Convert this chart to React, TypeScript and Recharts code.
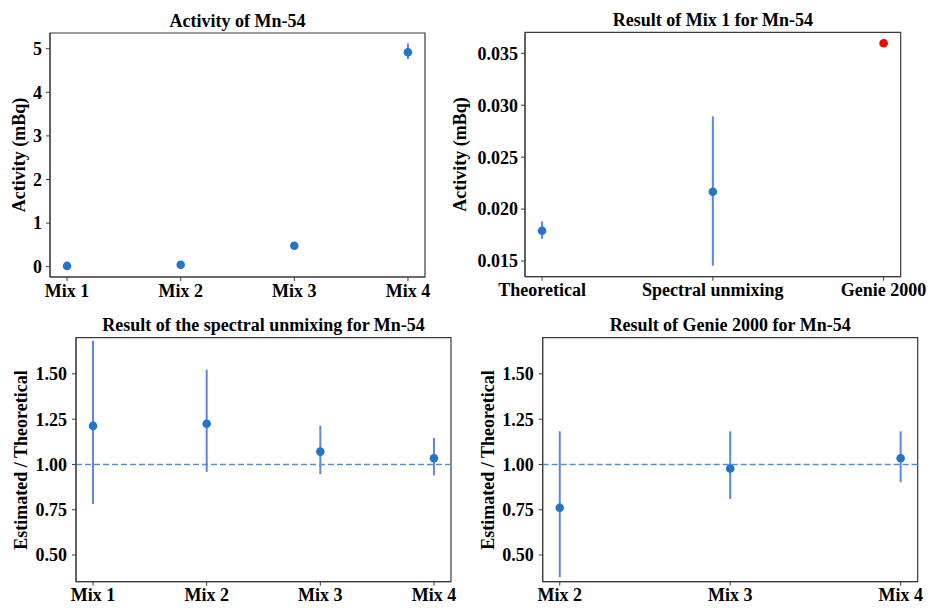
import React from 'react';
import { ScatterChart, Scatter, XAxis, YAxis, ErrorBar, ReferenceLine, ReferenceArea } from 'recharts';

// ---------- data ----------
const activityLabels = ['Mix 1', 'Mix 2', 'Mix 3', 'Mix 4'];
const activityValues = [0.018, 0.046, 0.48, 4.92];
const activityErrLow = [0.001, 0.003, 0.02, 0.16];
const activityErrHigh = [0.001, 0.003, 0.02, 0.2];
const activityTicks = [0, 1, 2, 3, 4, 5];

const mix1Labels = ['Theoretical', 'Spectral unmixing', 'Genie 2000'];
const mix1Values = [0.01792, 0.02167];
const mix1ErrLow = [0.00077, 0.00712];
const mix1ErrHigh = [0.0009, 0.00726];
const mix1GenieValue = 0.03596;
const mix1Ticks = [0.015, 0.02, 0.025, 0.03, 0.035];

const unmixLabels = ['Mix 1', 'Mix 2', 'Mix 3', 'Mix 4'];
const unmixValues = [1.213, 1.225, 1.071, 1.034];
const unmixErrLow = [0.431, 0.266, 0.124, 0.094];
const unmixErrHigh = [0.471, 0.299, 0.143, 0.112];

const genieLabels = ['Mix 2', 'Mix 3', 'Mix 4'];
const genieValues = [0.761, 0.978, 1.034];
const genieErrLow = [0.384, 0.169, 0.132];
const genieErrHigh = [0.422, 0.205, 0.149];

const ratioTicks = [0.5, 0.75, 1.0, 1.25, 1.5];

// ---------- style ----------
const FONT = '"Liberation Serif", "Times New Roman", serif';
const TEXT = '#000000';
const FRAME = '#3a3a3a';
const MARKER = '#2475c7';
const ERRCOL = '#5b85e8';
const DASH = '#4d94d6';

const tickStyle = { fill: TEXT, fontSize: 18, fontWeight: 'bold', fontFamily: FONT };

const Dot = (color: string) => (props: any) => (
  <circle cx={props.cx} cy={props.cy} r={4.3} fill={color} stroke="none" />
);

const build = (vals: number[], lo: number[], hi: number[]) =>
  vals.map((v, i) => ({ x: i, y: v, err: [lo[i], hi[i]] }));

type PanelProps = {
  left: number; top: number; width: number; height: number;
  yAxisWidth: number; marginTop: number; marginRight: number; xAxisHeight: number;
  labels: string[]; xDomain: [number, number];
  yDomain: [number, number]; yTicks: number[]; yFmt: (v: number) => string;
  series: { data: any[]; color: string; errors: boolean }[];
  refY?: number; yTickMargin: number;
};

const Panel = (p: PanelProps) => (
  <div style={{ position: 'absolute', left: p.left, top: p.top }}>
    <ScatterChart
      width={p.width}
      height={p.height}
      margin={{ top: p.marginTop, right: p.marginRight, bottom: 0, left: 0 }}
    >
      <XAxis
        type="number"
        dataKey="x"
        domain={p.xDomain}
        allowDataOverflow
        ticks={p.labels.map((_, i) => i)}
        tickFormatter={(v: number) => p.labels[v] ?? ''}
        interval={0}
        height={p.xAxisHeight}
        tickSize={4}
        tickMargin={3}
        stroke={FRAME}
        tickLine={{ stroke: FRAME }}
        axisLine={{ stroke: FRAME }}
        tick={tickStyle}
      />
      <YAxis
        type="number"
        dataKey="y"
        domain={p.yDomain}
        allowDataOverflow
        ticks={p.yTicks}
        tickFormatter={p.yFmt}
        interval={0}
        width={p.yAxisWidth}
        tickSize={4}
        tickMargin={p.yTickMargin}
        stroke={FRAME}
        tickLine={{ stroke: FRAME }}
        axisLine={{ stroke: FRAME }}
        tick={tickStyle}
      />
      <ReferenceArea
        x1={p.xDomain[0]}
        x2={p.xDomain[1]}
        y1={p.yDomain[0]}
        y2={p.yDomain[1]}
        fill="none"
        fillOpacity={0}
        stroke={FRAME}
        strokeWidth={1.2}
        ifOverflow="visible"
      />
      {p.refY !== undefined && (
        <ReferenceLine y={p.refY} stroke={DASH} strokeWidth={1.6} strokeDasharray="6 3" ifOverflow="visible" />
      )}
      {p.series.map((s, i) => (
        <Scatter key={i} data={s.data} isAnimationActive={false} shape={Dot(s.color)}>
          {s.errors && (
            <ErrorBar dataKey="err" direction="y" width={0} stroke={ERRCOL} strokeWidth={2} isAnimationActive={false} />
          )}
        </Scatter>
      ))}
    </ScatterChart>
  </div>
);

const TitleText = ({ x, y, children }: { x: number; y: number; children: React.ReactNode }) => (
  <text x={x} y={y} textAnchor="middle" fontFamily={FONT} fontWeight="bold" fontSize={18} fill={TEXT}>
    {children}
  </text>
);

const YLabel = ({ x, y, children }: { x: number; y: number; children: React.ReactNode }) => (
  <text
    x={x}
    y={y}
    transform={`rotate(-90, ${x}, ${y})`}
    textAnchor="middle"
    fontFamily={FONT}
    fontWeight="bold"
    fontSize={18}
    fill={TEXT}
  >
    {children}
  </text>
);

export default function App() {
  return (
    <div style={{ position: 'absolute', left: 0, top: 0, width: 929, height: 608, background: '#fff', overflow: 'hidden' }}>
      <Panel
        left={0} top={0} width={465} height={300}
        yAxisWidth={50} marginTop={33} marginRight={40} xAxisHeight={23}
        labels={activityLabels} xDomain={[-0.15, 3.15]}
        yDomain={[-0.236, 5.36]} yTicks={activityTicks} yFmt={(v) => String(v)}
        yTickMargin={4}
        series={[{ data: build(activityValues, activityErrLow, activityErrHigh), color: MARKER, errors: true }]}
      />
      <Panel
        left={465} top={0} width={464} height={300}
        yAxisWidth={60} marginTop={32.3} marginRight={28.3} xAxisHeight={23.3}
        labels={mix1Labels} xDomain={[-0.1, 2.1]}
        yDomain={[0.01349, 0.03702]} yTicks={mix1Ticks} yFmt={(v) => v.toFixed(3)}
        yTickMargin={3}
        series={[
          { data: build(mix1Values, mix1ErrLow, mix1ErrHigh), color: MARKER, errors: true },
          { data: [{ x: 2, y: mix1GenieValue, err: [0, 0] }], color: '#ff0000', errors: false },
        ]}
      />
      <Panel
        left={0} top={300} width={465} height={308}
        yAxisWidth={76} marginTop={37.7} marginRight={14} xAxisHeight={26.3}
        labels={unmixLabels} xDomain={[-0.15, 3.15]}
        yDomain={[0.3525, 1.7]} yTicks={ratioTicks} yFmt={(v) => v.toFixed(2)}
        yTickMargin={5}
        refY={1}
        series={[{ data: build(unmixValues, unmixErrLow, unmixErrHigh), color: MARKER, errors: true }]}
      />
      <Panel
        left={465} top={300} width={464} height={308}
        yAxisWidth={77.7} marginTop={37.7} marginRight={11.3} xAxisHeight={26.3}
        labels={genieLabels} xDomain={[-0.1, 2.1]}
        yDomain={[0.3525, 1.7]} yTicks={ratioTicks} yFmt={(v) => v.toFixed(2)}
        yTickMargin={5}
        refY={1}
        series={[{ data: build(genieValues, genieErrLow, genieErrHigh), color: MARKER, errors: true }]}
      />
      <svg
        width={929}
        height={608}
        style={{ position: 'absolute', left: 0, top: 0, pointerEvents: 'none' }}
      >
        <TitleText x={237.5} y={27.3}>Activity of Mn-54</TitleText>
        <TitleText x={712.9} y={26}>Result of Mix 1 for Mn-54</TitleText>
        <TitleText x={263.5} y={331}>Result of the spectral unmixing for Mn-54</TitleText>
        <TitleText x={730.2} y={330.7}>Result of Genie 2000 for Mn-54</TitleText>
        <YLabel x={24.5} y={155}>Activity (mBq)</YLabel>
        <YLabel x={466} y={154.5}>Activity (mBq)</YLabel>
        <YLabel x={27} y={460}>Estimated / Theoretical</YLabel>
        <YLabel x={494} y={460}>Estimated / Theoretical</YLabel>
      </svg>
    </div>
  );
}
